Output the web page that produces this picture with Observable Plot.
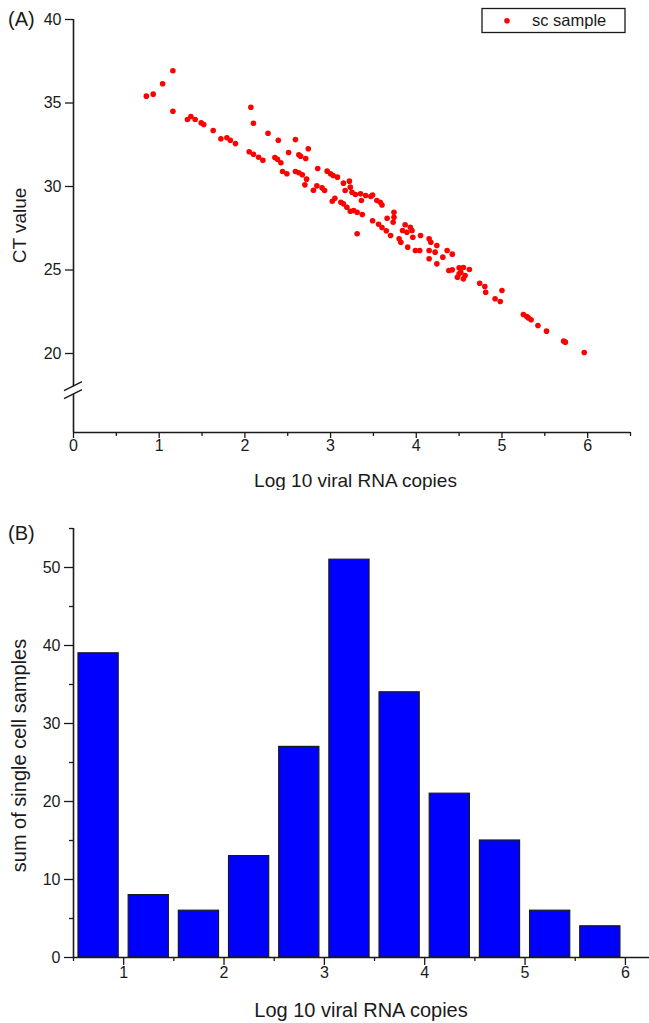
<!DOCTYPE html>
<html><head><meta charset="utf-8">
<script src="https://cdn.jsdelivr.net/npm/d3@7"></script>
<script src="https://cdn.jsdelivr.net/npm/@observablehq/plot@0.6"></script>
<style>
body{margin:0;background:#fff;}
#chart{width:649px;}
#chart svg{display:block;}
</style></head><body><div id="chart"></div>
<script>
// Panel A: scatter of CT value vs log10 viral RNA copies
const ctX = [0.85,0.93,1.04,1.16,1.16,1.33,1.37,1.42,1.49,1.52,1.63,1.72,1.79,1.83,1.89,2.07,2.10,2.05,2.10,2.16,2.21,2.27,2.35,2.38,2.39,2.42,2.44,2.49,2.51,2.59,2.59,2.63,2.65,2.63,2.67,2.71,2.70,2.72,2.74,2.80,2.84,2.85,2.90,2.93,2.96,3.00,3.03,3.02,3.05,3.08,3.12,3.15,3.15,3.17,3.22,3.23,3.25,3.19,3.23,3.27,3.31,3.37,3.29,3.35,3.36,3.41,3.47,3.49,3.54,3.58,3.60,3.31,3.49,3.56,3.60,3.66,3.65,3.74,3.74,3.73,3.70,3.80,3.82,3.84,3.87,3.89,3.93,3.95,3.96,3.90,3.99,4.04,4.05,4.15,4.17,4.15,4.22,4.24,4.15,4.24,4.36,4.42,4.31,4.38,4.42,4.50,4.55,4.50,4.57,4.48,4.62,4.52,4.55,4.74,4.80,4.81,5.00,4.92,4.98,5.25,5.29,5.31,5.34,5.42,5.52,5.72,5.74,5.96];
const ctY = [35.41,35.53,36.15,36.93,34.51,34.01,34.19,34.01,33.81,33.71,33.35,32.86,32.92,32.77,32.57,34.75,33.79,32.08,31.93,31.75,31.57,33.19,31.74,31.63,32.77,31.42,30.90,30.76,32.04,32.81,30.90,31.90,31.81,30.82,30.70,31.68,30.10,30.44,32.26,29.78,30.04,31.08,29.92,29.76,30.92,30.76,30.66,29.12,29.30,30.56,29.06,28.96,30.20,29.76,30.32,29.96,29.66,28.76,28.52,28.56,28.46,28.32,29.52,29.56,29.16,29.46,29.40,29.49,29.16,29.06,28.89,27.17,27.95,27.74,27.54,28.10,27.35,28.46,28.16,27.86,27.07,26.87,26.66,27.37,27.71,27.26,27.56,27.37,26.96,26.37,26.17,26.17,27.07,26.87,26.66,26.17,26.07,26.47,25.67,25.37,26.17,25.95,25.77,24.97,25.01,25.13,25.15,24.77,24.67,24.57,25.03,24.87,24.47,24.21,24.01,23.67,23.77,23.28,23.11,22.34,22.22,22.13,22.02,21.68,21.34,20.74,20.68,20.06];
const xTicksA = [0,1,2,3,4,5,6];
const xMinorA = [0.5,1.5,2.5,3.5,4.5,5.5,6.5];
const yTicksA = [0,20,25,30,35,40];
const yBreakA = [9.6, 11.6];          // gap in the broken y axis
const legendLabel = "sc sample";

// Panel B: histogram
const binEdges = [0.5,1,1.5,2,2.5,3,3.5,4,4.5,5,5.5,6];
const binCounts = [39,8,6,13,27,51,34,21,15,6,4];
const xTicksB = [1,2,3,4,5,6];
const xMinorB = [0.5,1.5,2.5,3.5,4.5,5.5];
const yTicksB = [0,10,20,30,40,50];
const yMinorB = [5,15,25,35,45,55];

const xTitle = "Log 10 viral RNA copies";
const yTitleA = "CT value";
const yTitleB = "sum of single cell samples";

const FONT = "'Liberation Sans', Arial, Helvetica, sans-serif";
const INK = "#1a1a1a";
const fmt = d3.format("d");
const MINOR = "__minor__";           // sentinel label of minor-tick axes, removed after render
const minorFmt = () => MINOR;

// broken-axis compression of the 0..20 stretch of panel A's y scale
const BREAK_AT = 20, BREAK_K = 0.2365;
const brk = v => v >= BREAK_AT ? v : BREAK_AT - (BREAK_AT - v) * BREAK_K;

const n = Math.min(ctX.length, ctY.length);
const points = ctX.slice(0, n).map((x, i) => ({x, y: ctY[i]}));
const bins = binCounts.map((c, i) => ({x1: binEdges[i], x2: binEdges[i + 1], count: c}));
const yAxisSegA = [{y1: 0, y2: yBreakA[0]}, {y1: yBreakA[1], y2: 40}];

const plotA = Plot.plot({
  width: 649, height: 490,
  marginLeft: 73, marginRight: 19, marginTop: 19, marginBottom: 58,
  style: {fontFamily: FONT, fontSize: "16px", color: INK, background: "white"},
  x: {domain: [0, 6.5]},
  y: {domain: [brk(0), 40], transform: brk},
  marks: [
    Plot.axisX({ticks: xTicksA, tickSize: 6, tickPadding: 1, tickFormat: fmt, label: null, strokeWidth: 1.3, fontSize: 16}),
    Plot.axisX({ticks: xMinorA, tickSize: 4, tickFormat: minorFmt, label: null, strokeWidth: 1.3}),
    Plot.axisY({ticks: yTicksA, tickSize: 8, tickPadding: 4, tickFormat: fmt, label: null, strokeWidth: 1.3, fontSize: 16}),
    Plot.ruleY([0], {stroke: INK, strokeWidth: 1.6}),
    Plot.ruleX(yAxisSegA, {x: 0, y1: "y1", y2: "y2", stroke: INK, strokeWidth: 1.6}),
    Plot.dot(points, {x: "x", y: "y", r: 2.8, fill: "#ff0000", stroke: "none"})
  ]
});

const plotB = Plot.plot({
  width: 649, height: 533,
  marginLeft: 73, marginRight: 0, marginTop: 38, marginBottom: 66,
  style: {fontFamily: FONT, fontSize: "16px", color: INK, background: "white"},
  x: {domain: [0.5, 6.24]},
  y: {domain: [0, 55]},
  marks: [
    Plot.rectY(bins, {x1: "x1", x2: "x2", y1: 0, y2: "count", fill: "#0000ff", stroke: INK, strokeWidth: 1.2, insetLeft: 5, insetRight: 5}),
    Plot.axisX({ticks: xTicksB, tickSize: 8, tickPadding: 1, tickFormat: fmt, label: null, strokeWidth: 1.3, fontSize: 16}),
    Plot.axisX({ticks: xMinorB, tickSize: 4, tickFormat: minorFmt, label: null, strokeWidth: 1.3}),
    Plot.axisY({ticks: yTicksB, tickSize: 9, tickPadding: 4, tickFormat: fmt, label: null, strokeWidth: 1.3, fontSize: 16}),
    Plot.axisY({ticks: yMinorB, tickSize: 4, tickFormat: minorFmt, label: null, strokeWidth: 1.3}),
    Plot.ruleY([0], {stroke: INK, strokeWidth: 1.6}),
    Plot.ruleX([0.5], {y1: 0, y2: 55, stroke: INK, strokeWidth: 1.6})
  ]
});

const root = document.getElementById("chart");
root.appendChild(plotA);
root.appendChild(plotB);

// remove the minor axes' placeholder labels and any empty or invisible texts
[plotA, plotB].forEach(p => {
  d3.select(p).selectAll("text").filter(function () {
    const t = this.textContent.trim();
    const g = this.closest('[fill="none"]');
    return t === "" || t.includes(MINOR) || g !== null;
  }).remove();
});

function addText(svg, txt, x, y, size, opts = {}) {
  const t = svg.append("text")
    .attr("font-family", FONT).attr("font-size", size).attr("fill", INK)
    .attr("text-anchor", opts.anchor || "middle")
    .attr("dy", "0.35em")
    .text(txt);
  if (opts.rotate) t.attr("transform", `translate(${x},${y}) rotate(-90)`);
  else t.attr("x", x).attr("y", y);
  return t;
}

// Panel A decorations
{
  const svg = d3.select(plotA);
  const sx = plotA.scale("x"), sy = plotA.scale("y");
  const py = v => sy.apply(brk(v));
  const x0 = sx.apply(0);
  const yLo = py(yBreakA[0]), yHi = py(yBreakA[1]);
  [yHi, yLo].forEach(yy => {
    svg.append("line").attr("x1", x0 - 9).attr("y1", yy + 4.5).attr("x2", x0 + 9).attr("y2", yy - 4.5)
      .attr("stroke", INK).attr("stroke-width", 1.5);
  });
  const xr = sx.range;
  const yTop = py(40), yBot = py(0);
  addText(svg, xTitle, (xr[0] + xr[1]) / 2 + 4, yBot + 48, 19);
  addText(svg, yTitleA, 19, (yTop + yBot) / 2, 19, {rotate: true});
  addText(svg, "(A)", 8, yTop, 20, {anchor: "start"});
  // legend
  const lx = xr[1] - 148, ly = 8.5;
  svg.append("rect").attr("x", lx).attr("y", ly).attr("width", 143).attr("height", 24)
    .attr("fill", "white").attr("stroke", INK).attr("stroke-width", 1.3);
  svg.append("circle").attr("cx", lx + 25).attr("cy", ly + 12.2).attr("r", 2.8).attr("fill", "#ff0000");
  addText(svg, legendLabel, lx + 50, ly + 12.2, 16.5, {anchor: "start"});
}

// Panel B decorations
{
  const svg = d3.select(plotB);
  const sx = plotB.scale("x"), sy = plotB.scale("y");
  const xr = sx.range;
  const yTop = sy.apply(55), yBot = sy.apply(0);
  addText(svg, xTitle, (xr[0] + xr[1]) / 2, yBot + 53, 20);
  addText(svg, yTitleB, 19, (yTop + yBot) / 2 + 13, 20, {rotate: true});
  addText(svg, "(B)", 8, yTop + 5, 20, {anchor: "start"});
}
</script>
</body></html>
